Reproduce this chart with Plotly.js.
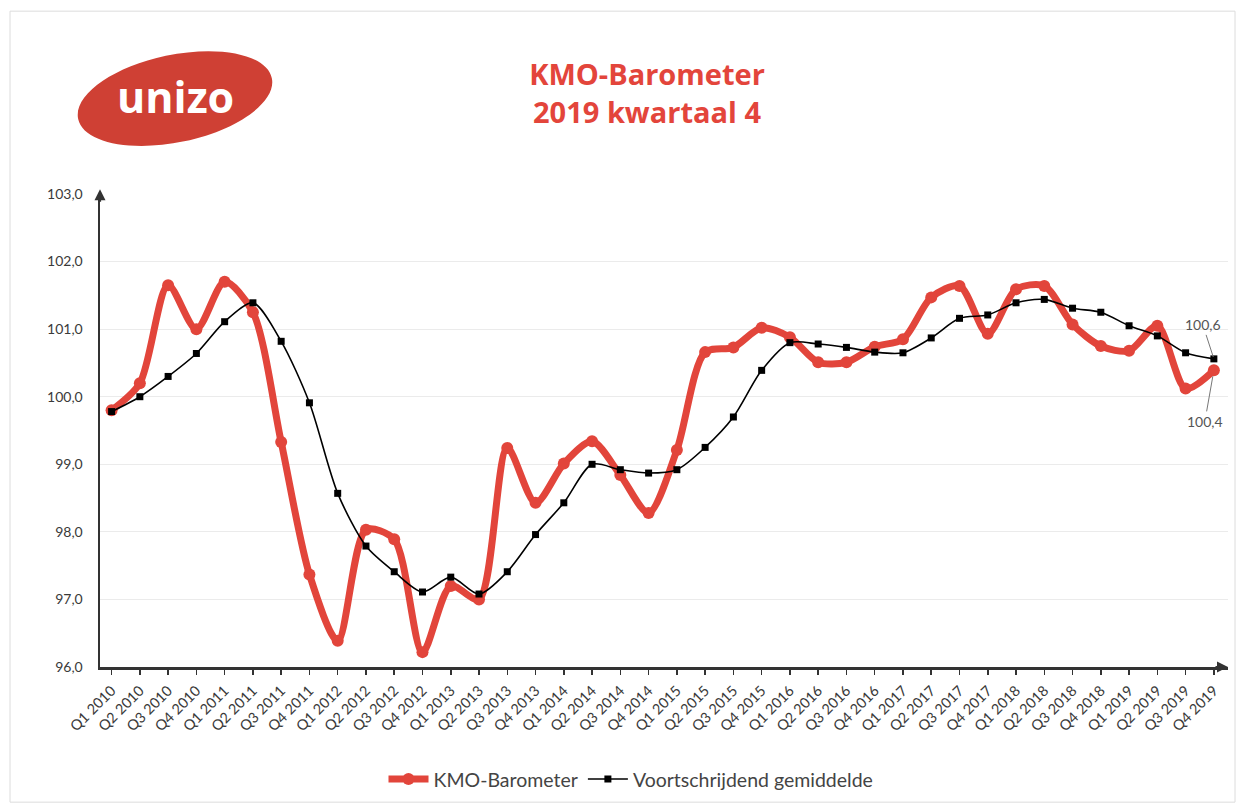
<!DOCTYPE html>
<html>
<head>
<meta charset="utf-8">
<script src="https://cdn.plot.ly/plotly-3.0.1.min.js"></script>
<style>html,body{margin:0;padding:0;background:#fff;}#chart{width:1236px;height:807px;}</style>
</head>
<body>
<div id="chart"></div>
<script>
// ---- data ----
var quarters = ["Q1 2010","Q2 2010","Q3 2010","Q4 2010","Q1 2011","Q2 2011","Q3 2011","Q4 2011",
  "Q1 2012","Q2 2012","Q3 2012","Q4 2012","Q1 2013","Q2 2013","Q3 2013","Q4 2013",
  "Q1 2014","Q2 2014","Q3 2014","Q4 2014","Q1 2015","Q2 2015","Q3 2015","Q4 2015",
  "Q1 2016","Q2 2016","Q3 2016","Q4 2016","Q1 2017","Q2 2017","Q3 2017","Q4 2017",
  "Q1 2018","Q2 2018","Q3 2018","Q4 2018","Q1 2019","Q2 2019","Q3 2019","Q4 2019"];
var kmoBarometer = [99.8,100.2,101.65,101.0, 101.7,101.25,99.33,97.37,
  96.39,98.03,97.89,96.22, 97.2,97.0,99.24,98.43,
  99.01,99.34,98.84,98.28, 99.21,100.66,100.73,101.02,
  100.88,100.51,100.51,100.74, 100.85,101.47,101.64,100.93,
  101.59,101.64,101.07,100.75, 100.68,101.05,100.12,100.39];
var voortschrijdend = [99.78,100.0,100.3,100.64, 101.11,101.39,100.82,99.91,
  98.57,97.79,97.41,97.11, 97.33,97.08,97.41,97.96,
  98.43,99.0,98.92,98.87, 98.92,99.25,99.7,100.39,
  100.8,100.78,100.73,100.66, 100.65,100.87,101.16,101.21,
  101.39,101.44,101.31,101.25, 101.05,100.9,100.65,100.56];
var yTicks = [96,97,98,99,100,101,102,103];
var yTickLabels = ["96,0","97,0","98,0","99,0","100,0","101,0","102,0","103,0"];
var seriesNames = ["KMO-Barometer","Voortschrijdend gemiddelde"];
var titleLines = ["KMO-Barometer","2019 kwartaal 4"];
var logoText = "unizo";

// ---- layout helpers (pixel -> paper) ----
var W = 1236, H = 807;
var M = {l:100, r:8, t:194, b:137};
var PW = W - M.l - M.r, PH = H - M.t - M.b;
function px(x){ return (x - M.l) / PW; }
function py(y){ return (H - M.b - y) / PH; }

function fmt(v){ return v.toFixed(1).replace('.', ','); }

// rotated ellipse path (bezier) for logo
function ellipsePath(cx, cy, a, b, thetaDeg){
  var th = thetaDeg*Math.PI/180, k = 0.5523;
  var u = [Math.cos(th), Math.sin(th)], v = [-Math.sin(th), Math.cos(th)];
  function P(t){ return [cx + a*Math.cos(t)*u[0] + b*Math.sin(t)*v[0], cy + a*Math.cos(t)*u[1] + b*Math.sin(t)*v[1]]; }
  function D(t){ return [-a*Math.sin(t)*u[0] + b*Math.cos(t)*v[0], -a*Math.sin(t)*u[1] + b*Math.cos(t)*v[1]]; }
  function s(p){ return px(p[0]).toFixed(5) + ',' + py(p[1]).toFixed(5); }
  var d = 'M' + s(P(0));
  for (var i=0;i<4;i++){
    var t0 = i*Math.PI/2, t1 = (i+1)*Math.PI/2;
    var p0 = P(t0), p1 = P(t1), d0 = D(t0), d1 = D(t1);
    var c0 = [p0[0]+k*d0[0], p0[1]+k*d0[1]];
    var c1 = [p1[0]-k*d1[0], p1[1]-k*d1[1]];
    d += ' C' + s(c0) + ' ' + s(c1) + ' ' + s(p1);
  }
  return d + ' Z';
}

var red = '#e2453b';
var traces = [
  {
    x: quarters, y: kmoBarometer, name: seriesNames[0], type: 'scatter', mode: 'lines+markers',
    line: {color: red, width: 7, shape: 'spline', smoothing: 0.8},
    marker: {symbol: 'circle', size: 12, color: red},
    hoverinfo: 'x+y'
  },
  {
    x: quarters, y: voortschrijdend, name: seriesNames[1], type: 'scatter', mode: 'lines+markers',
    line: {color: '#000', width: 1.6, shape: 'spline', smoothing: 0.8},
    marker: {symbol: 'square', size: 7, color: '#000'},
    hoverinfo: 'x+y'
  }
];

var n = quarters.length;
var layout = {
  width: W, height: H,
  margin: M,
  paper_bgcolor: '#fff', plot_bgcolor: '#fff',
  font: {family: 'Lato, "Open Sans", sans-serif', color: '#333'},
  title: {
    text: titleLines.join('<br>'),
    font: {family: '"Open Sans", sans-serif', size: 29, color: '#e3453b', weight: 'bold'},
    x: 647/W, xanchor: 'center', xref: 'container',
    y: 1 - 85/H, yanchor: 'middle', yref: 'container'
  },
  showlegend: true,
  legend: {
    orientation: 'h', x: px(631), xanchor: 'center', y: py(783), yanchor: 'middle',
    font: {size: 19.5, color: '#444', family: 'Lato, sans-serif'},
    itemwidth: 40, traceorder: 'normal'
  },
  xaxis: {
    type: 'category', range: [-0.41, n - 0.5],
    showgrid: false, zeroline: false,
    showline: true, linecolor: '#333', linewidth: 2.5,
    ticks: 'outside', ticklen: 5, tickcolor: '#333', tickwidth: 1.5,
    tickangle: -45, tickfont: {size: 14.5, color: '#3a3a3a'}, ticklabelstandoff: 2,
    fixedrange: true
  },
  yaxis: {
    range: [96, 103], tickvals: yTicks, ticktext: yTickLabels,
    showgrid: true, gridcolor: '#ebebeb', gridwidth: 1, zeroline: false,
    showline: true, linecolor: '#333', linewidth: 2.5,
    ticks: '', tickfont: {size: 14, color: '#3a3a3a'}, ticklabelstandoff: 12,
    fixedrange: true
  },
  shapes: [
    {type: 'rect', xref: 'paper', yref: 'paper', x0: px(10), x1: px(1235), y0: py(10), y1: py(806),
     line: {color: '#dcdcdc', width: 1}, fillcolor: 'rgba(0,0,0,0)', layer: 'below'},
    {type: 'path', xref: 'paper', yref: 'paper', path: ellipsePath(175, 98, 99, 44, -12),
     fillcolor: '#cf4034', line: {width: 0}}
  ],
  annotations: [
    {xref: 'paper', yref: 'paper', x: px(175), y: py(96), text: logoText, showarrow: false,
     font: {family: '"Open Sans", sans-serif', size: 43, color: '#fff', weight: 'bold'}, xanchor: 'center', yanchor: 'middle'},
    // axis arrowheads
    {xref: 'paper', yref: 'paper', x: 0, y: 1.01, ax: 0, ay: 14, text: '', showarrow: true,
     arrowhead: 2, arrowsize: 1, arrowwidth: 2.2, arrowcolor: '#333'},
    {xref: 'paper', yref: 'paper', x: 1, y: 0, ax: -14, ay: 0, text: '', showarrow: true,
     arrowhead: 2, arrowsize: 1, arrowwidth: 2.2, arrowcolor: '#333'},
    // end value labels
    {x: quarters[n-1], y: voortschrijdend[n-1], text: fmt(voortschrijdend[n-1]), showarrow: true,
     arrowhead: 0, arrowwidth: 1, arrowcolor: '#777', ax: -11, ay: -34, standoff: 2,
     font: {size: 14, color: '#555'}},
    {x: quarters[n-1], y: kmoBarometer[n-1], text: fmt(kmoBarometer[n-1]), showarrow: true,
     arrowhead: 0, arrowwidth: 1, arrowcolor: '#777', ax: -9, ay: 51, standoff: 6,
     font: {size: 14, color: '#555'}}
  ]
};

Plotly.newPlot('chart', traces, layout, {displayModeBar: false, staticPlot: true});
</script>
</body>
</html>
